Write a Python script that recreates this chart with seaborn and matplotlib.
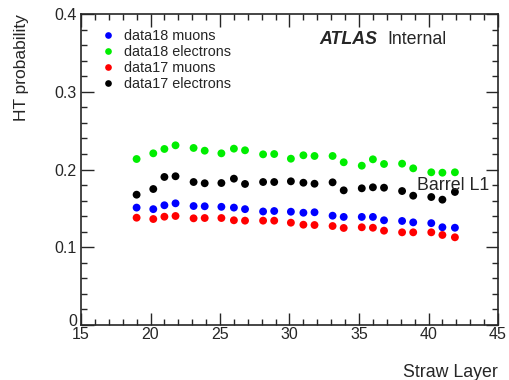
import numpy as np
import pandas as pd
import matplotlib
matplotlib.use("Agg")
import matplotlib.pyplot as plt
import seaborn as sns
from matplotlib.ticker import MultipleLocator
from matplotlib.transforms import ScaledTranslation

straw_layer = [19.0, 20.2, 21.0, 21.8, 23.1, 23.9, 25.1, 26.0, 26.8, 28.1, 28.9,
               30.1, 31.0, 31.8, 33.1, 33.9, 35.2, 36.0, 36.8, 38.1, 38.9, 40.2, 41.0, 41.9]

data18_muons = [0.151, 0.149, 0.154, 0.1565, 0.153, 0.1527, 0.152, 0.151, 0.149, 0.146, 0.1466,
                0.1457, 0.1444, 0.145, 0.1406, 0.139, 0.139, 0.139, 0.1347, 0.1338, 0.132, 0.131, 0.1257, 0.1251]
data18_electrons = [0.2135, 0.2208, 0.2264, 0.2311, 0.2277, 0.2242, 0.2208, 0.2268, 0.2247, 0.2195, 0.2199,
                    0.2139, 0.2183, 0.2174, 0.2174, 0.2093, 0.2049, 0.2131, 0.2071, 0.2075, 0.2015, 0.1964, 0.1959, 0.1964]
data17_muons = [0.138, 0.1363, 0.1393, 0.1402, 0.1372, 0.1376, 0.1376, 0.1347, 0.1342, 0.1342, 0.1342,
                0.1316, 0.129, 0.1286, 0.1273, 0.1248, 0.1257, 0.1251, 0.1213, 0.1192, 0.1192, 0.1192, 0.1158, 0.1128]
data17_electrons = [0.1676, 0.1749, 0.1904, 0.1913, 0.1839, 0.1823, 0.1826, 0.1882, 0.1814, 0.1839, 0.1839,
                    0.1848, 0.183, 0.1817, 0.1835, 0.1732, 0.1758, 0.1771, 0.1766, 0.1723, 0.1663, 0.1646, 0.1612, 0.1711]

series_names = ["data18 muons", "data18 electrons", "data17 muons", "data17 electrons"]
series_colors = ["#0000ff", "#00ee00", "#ff0000", "#000000"]
y_tick_labels = ["0", "0.1", "0.2", "0.3", "0.4"]

frames = []
for name, vals in zip(series_names, [data18_muons, data18_electrons, data17_muons, data17_electrons]):
    frames.append(pd.DataFrame({"Straw Layer": straw_layer, "HT probability": vals, "series": name}))
df = pd.concat(frames, ignore_index=True)

sns.set_style("ticks")
plt.rcParams["font.family"] = ["Liberation Sans", "DejaVu Sans"]

fig = plt.figure(figsize=(5.1, 3.8), dpi=100)
ax = fig.add_axes([81/510, 1-325/380, (498-81)/510, (325-14)/380])

sns.scatterplot(data=df, x="Straw Layer", y="HT probability", hue="series",
                hue_order=series_names, palette=dict(zip(series_names, series_colors)),
                s=32, linewidth=0, ax=ax, legend=True)

ax.set_xlim(15, 45)
ax.set_ylim(0, 0.4)
ax.xaxis.set_major_locator(MultipleLocator(5))
ax.xaxis.set_minor_locator(MultipleLocator(1))
ax.yaxis.set_minor_locator(MultipleLocator(0.02))
ax.set_yticks([0, 0.1, 0.2, 0.3, 0.4])
ax.set_yticklabels(y_tick_labels)
ax.tick_params(which="both", direction="in", top=True, right=True, labelsize=11.5, width=1)
ax.tick_params(which="major", length=9)
ax.tick_params(which="minor", length=4.5)
ax.tick_params(axis="x", which="major", pad=1.5)
ax.tick_params(axis="y", which="major", pad=3)
for sp in ax.spines.values():
    sp.set_linewidth(1.2)

# nudge the "0" label up a little, as in the reference
zero_lbl = ax.get_yticklabels()[0]
zero_lbl.set_transform(zero_lbl.get_transform() + ScaledTranslation(0, 5/100, fig.dpi_scale_trans))

ax.set_xlabel("Straw Layer", fontsize=12.8, ha="right", x=1.0)
ax.set_ylabel("HT probability", fontsize=12.5, ha="right", y=1.0)
ax.xaxis.set_label_coords(1.0, -0.125)
ax.yaxis.set_label_coords(-0.125, 1.0)

leg = ax.legend(loc="upper left", bbox_to_anchor=(0.01, 0.98), frameon=False,
                fontsize=10.4, handletextpad=0.1, labelspacing=0.14, markerscale=0.85,
                borderaxespad=0.2)

ax.text(0.571, 0.917, "ATLAS", transform=ax.transAxes, fontsize=12.8,
        fontweight="bold", fontstyle="italic", va="center")
ax.text(0.735, 0.917, "Internal", transform=ax.transAxes, fontsize=12.8, va="center")
ax.text(0.806, 0.45, "Barrel L1", transform=ax.transAxes, fontsize=12.8, va="center")

fig.savefig("out.png", dpi=100)
